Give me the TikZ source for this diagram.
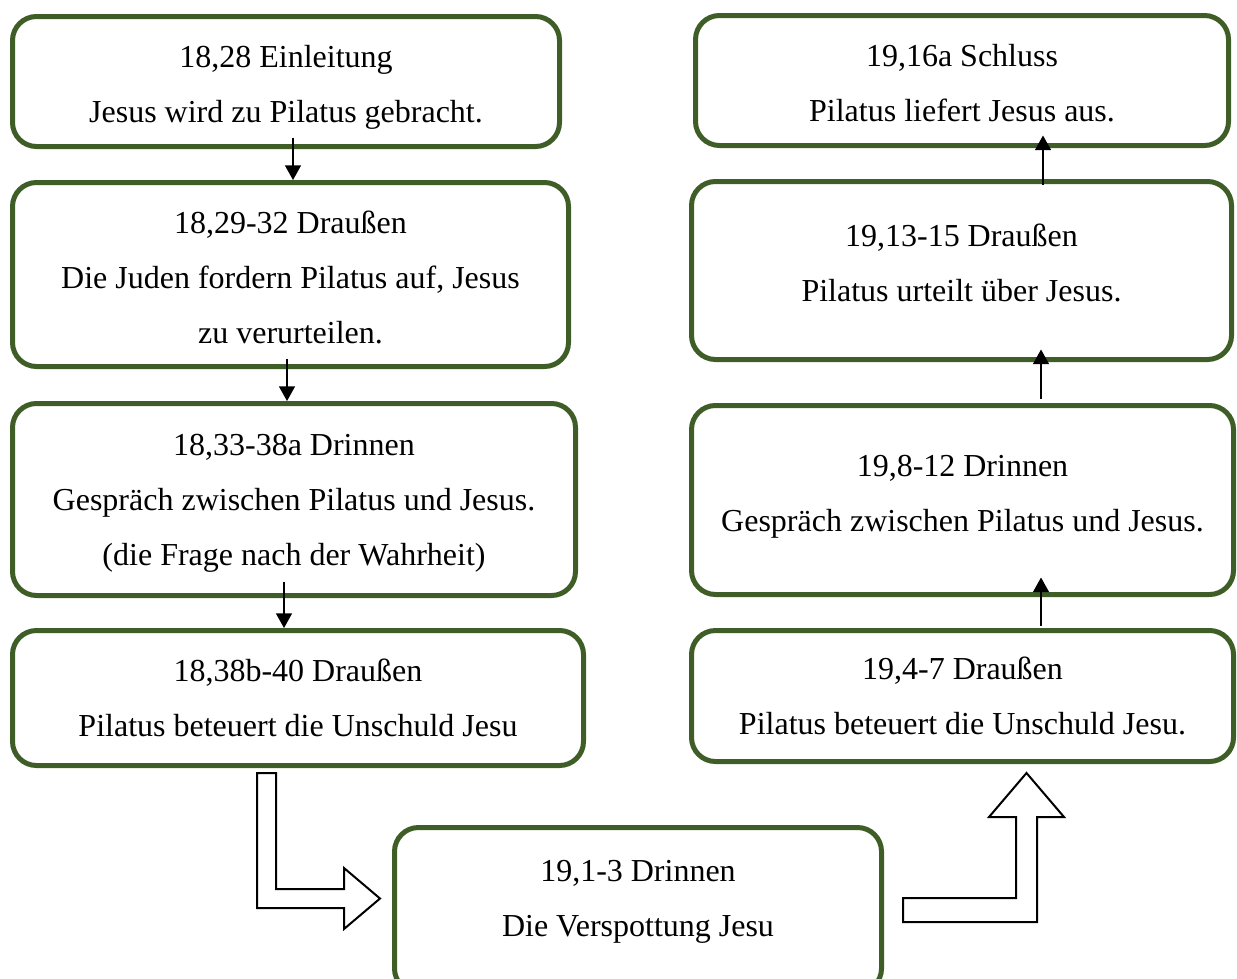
\documentclass[tikz,border=0pt]{standalone}
\usepackage{fontspec}
\setmainfont{Liberation Serif}
\usepackage{xcolor}
\usepackage{tikz}
\usetikzlibrary{arrows.meta, calc}
\definecolor{boxgreen}{HTML}{3F5E27}

\begin{document}
\begin{tikzpicture}[x=0.75pt, y=-0.75pt,
    stage/.style={draw=boxgreen, line width=3.75pt, rounded corners=18pt,
      align=center, inner sep=0pt, font=\fontsize{24pt}{41.25pt}\selectfont},
    flow/.style={-{Triangle[width=12pt, length=11pt]}, line width=1pt},
    blockarrow/.style={draw=black, line width=1.5pt, fill=white}]
  \useasboundingbox (0,0) rectangle (1237,978);
  \clip (0,0) rectangle (1237,978);

  % left column
  \node[stage, minimum width=410.25pt, minimum height=97.5pt] (intro) at (286,81.5) {%
    \rule{0pt}{25.5pt}18,28 Einleitung\\Jesus wird zu Pilatus gebracht.};
  \node[stage, minimum width=417pt, minimum height=138pt] (out1) at (290.5,274.5) {%
    \rule{0pt}{21pt}18,29-32 Draußen\\Die Juden fordern Pilatus auf, Jesus\\zu verurteilen.};
  \node[stage, minimum width=422.25pt, minimum height=144pt] (in1) at (294,499.5) {%
    \rule{0pt}{21pt}18,33-38a Drinnen\\Gespräch zwischen Pilatus und Jesus.\\(die Frage nach der Wahrheit)};
  \node[stage, minimum width=428.25pt, minimum height=101.25pt] (out2) at (298,698) {%
    18,38b-40 Draußen\\Pilatus beteuert die Unschuld Jesu};

  % middle
  \node[stage, minimum width=365.25pt, minimum height=123.75pt] (in2) at (638,910) {%
    19,1-3 Drinnen\\Die Verspottung Jesu\rule[-17pt]{0pt}{17pt}};

  % right column
  \node[stage, minimum width=406.5pt, minimum height=98.25pt] (out3) at (962.5,696) {%
    19,4-7 Draußen\\Pilatus beteuert die Unschuld Jesu.};
  \node[stage, minimum width=406.5pt, minimum height=141.75pt] (in3) at (962.5,500) {%
    19,8-12 Drinnen\\Gespräch zwischen Pilatus und Jesus.\rule[-9.7pt]{0pt}{9.7pt}};
  \node[stage, minimum width=405pt, minimum height=133.5pt] (out4) at (961.5,270.5) {%
    19,13-15 Draußen\\Pilatus urteilt über Jesus.\rule[-12pt]{0pt}{12pt}};
  \node[stage, minimum width=399.75pt, minimum height=97.5pt] (close) at (962,80.5) {%
    \rule{0pt}{21pt}19,16a Schluss\\Pilatus liefert Jesus aus.};

  % thin arrows
  \draw[flow] ($(intro.south)+(7,-11.5)$) -- ($(out1.north)+(2.5,0)$);
  \draw[flow] ($(out1.south)+(-3.5,-10.5)$) -- ($(in1.north)+(-7,0)$);
  \draw[flow] ($(in1.south)+(-10,-16.5)$) -- ($(out2.north)+(-14,0)$);
  \draw[flow] ($(out3.north)+(78.5,-2.5)$) -- ($(in3.south)+(78.5,-19.5)$);
  \draw[flow] ($(in3.north)+(78.5,-4.5)$) -- ($(out4.south)+(79.5,-12.5)$);
  \draw[flow] ($(out4.north)+(81.5,5.5)$) -- ($(close.south)+(81,-12.5)$);

  % block arrows
  \draw[blockarrow] (257,773) -- (276,773) -- (276,889) -- (344,889) -- (344,868)
    -- (380,898.5) -- (344,929) -- (344,908) -- (257,908) -- cycle;
  \draw[blockarrow] (903,898) -- (1016,898) -- (1016,817) -- (989,817) -- (1026.5,773)
    -- (1064,817) -- (1037,817) -- (1037,922) -- (903,922) -- cycle;
\end{tikzpicture}
\end{document}
